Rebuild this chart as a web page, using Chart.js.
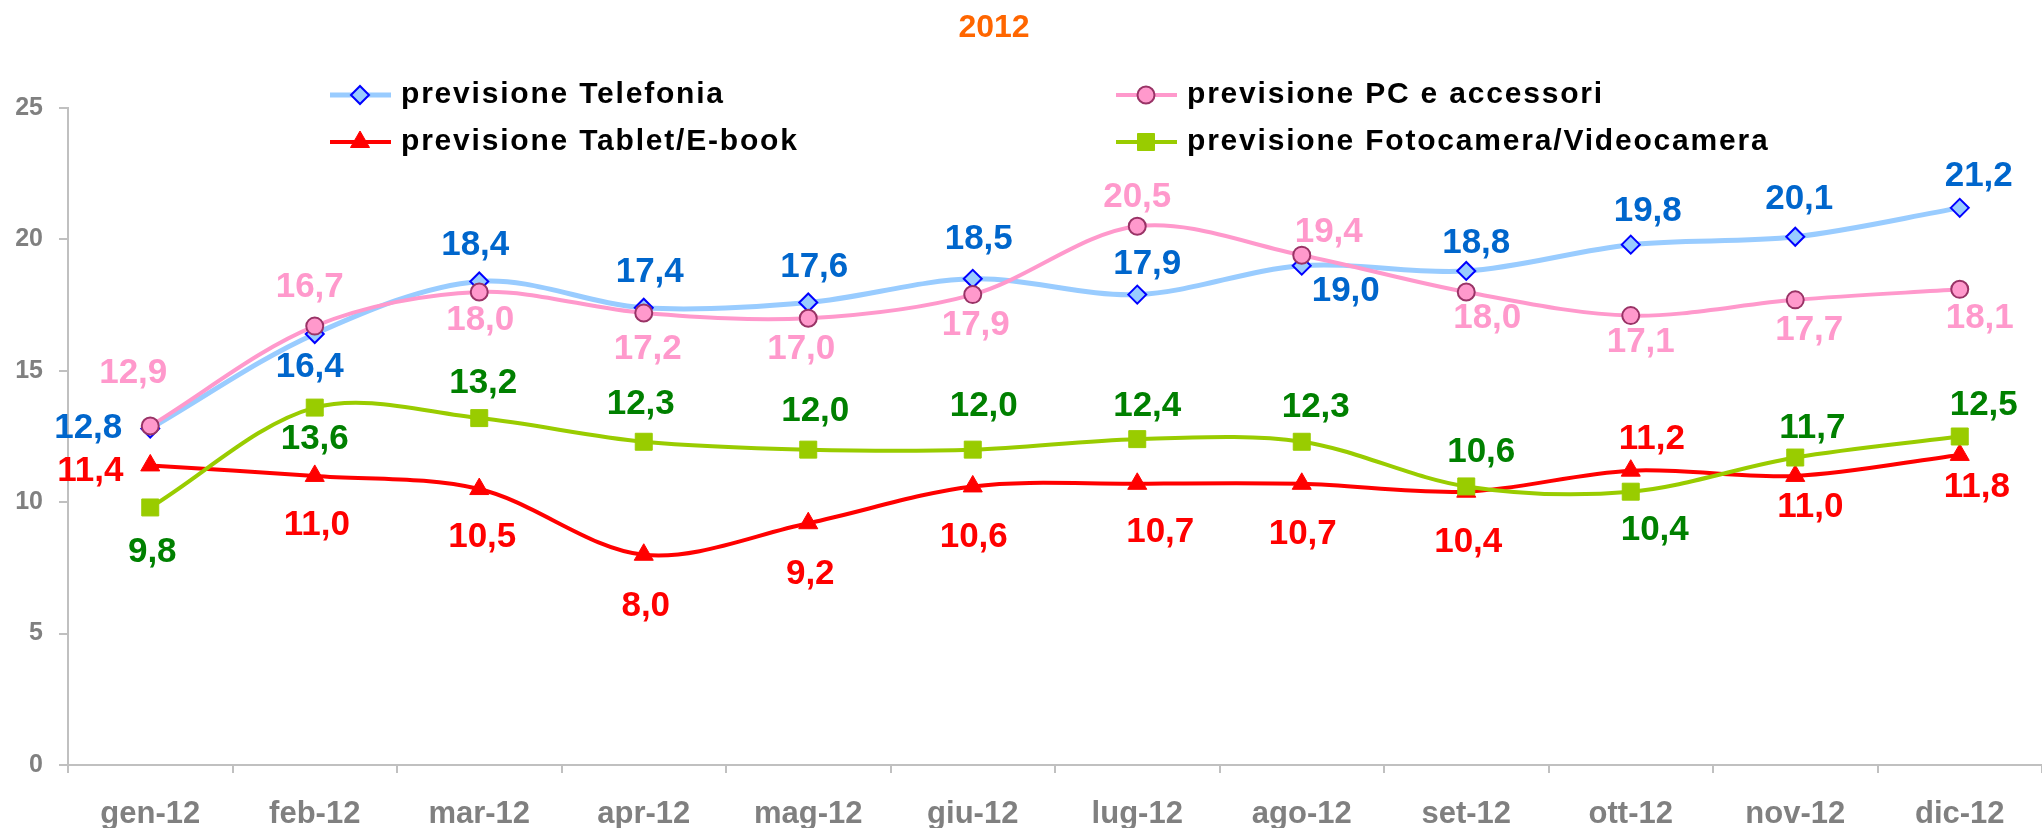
<!DOCTYPE html>
<html>
<head>
<meta charset="utf-8">
<script src="https://cdn.jsdelivr.net/npm/chart.js@4.4.0/dist/chart.umd.min.js"></script>
<style>
  html, body { margin: 0; padding: 0; background: #fff; }
  #wrap { width: 2042px; height: 828px; position: relative; }
</style>
</head>
<body>
<div id="wrap"><canvas id="chart"></canvas></div>
<script>
const months = ['gen-12', 'feb-12', 'mar-12', 'apr-12', 'mag-12', 'giu-12',
  'lug-12', 'ago-12', 'set-12', 'ott-12', 'nov-12', 'dic-12'];

const telefonia = [12.8, 16.4, 18.4, 17.4, 17.6, 18.5, 17.9, 19.0, 18.8, 19.8, 20.1, 21.2];
const pcAccessori = [12.9, 16.7, 18.0, 17.2, 17.0, 17.9, 20.5, 19.4, 18.0, 17.1, 17.7, 18.1];
const tablet = [11.4, 11.0, 10.5, 8.0, 9.2, 10.6, 10.7, 10.7, 10.4, 11.2, 11.0, 11.8];
const fotocamera = [9.8, 13.6, 13.2, 12.3, 12.0, 12.0, 12.4, 12.3, 10.6, 10.4, 11.7, 12.5];

const seriesNames = [
  'previsione Telefonia',
  'previsione PC e accessori',
  'previsione Tablet/E-book',
  'previsione Fotocamera/Videocamera',
];
const titleText = '2012';

// where each value label sits relative to its point (px)
const telefoniaLabelPos = [[-62, 0], [-5, 33], [-4, -36], [6, -35], [6, -35], [6, -39], [10, -30], [44, 26], [10, -28], [17, -33], [4, -37], [19, -32]];
const pcLabelPos = [[-17, -53], [-5, -39], [1, 28], [4, 36], [-7, 31], [3, 31], [0, -29], [27, -23], [21, 26], [10, 27], [14, 30], [20, 29]];
const tabletLabelPos = [[-60, 6], [2, 49], [3, 48], [2, 52], [2, 51], [1, 51], [23, 49], [1, 51], [2, 51], [21, -31], [15, 31], [17, 32]];
const fotoLabelPos = [[2, 45], [0, 32], [4, -35], [-3, -37], [7, -38], [11, -43], [10, -33], [14, -34], [15, -34], [24, 39], [17, -29], [24, -31]];

const FONT = '"Liberation Sans", Arial, Helvetica, sans-serif';
const AXIS_GREY = '#C0C0C0';
const TEXT_GREY = '#808080';

function fmt(v) {
  return v.toFixed(1).replace('.', ',');
}

const valueLabels = {
  id: 'valueLabels',
  afterDatasetsDraw(chart) {
    const ctx = chart.ctx;
    ctx.save();
    ctx.font = `bold 35px ${FONT}`;
    ctx.textAlign = 'center';
    ctx.textBaseline = 'middle';
    chart.data.datasets.forEach((ds, i) => {
      const meta = chart.getDatasetMeta(i);
      ctx.fillStyle = ds.labelColor;
      meta.data.forEach((pt, j) => {
        const off = ds.labelPos[j] || [0, -30];
        ctx.fillText(fmt(ds.data[j]), pt.x + off[0], pt.y + off[1]);
      });
    });
    ctx.restore();
  },
};

// title + two-column legend, drawn on the canvas
const headerBlock = {
  id: 'headerBlock',
  afterDraw(chart) {
    const ctx = chart.ctx;
    ctx.save();
    ctx.font = `bold 32px ${FONT}`;
    ctx.fillStyle = '#FF6600';
    ctx.textAlign = 'center';
    ctx.textBaseline = 'middle';
    ctx.fillText(titleText, 994, 28);

    chart.data.datasets.forEach((ds, i) => {
      const col = i % 2;
      const row = Math.floor(i / 2);
      const x0 = 330 + col * 786;
      const y = 95 + row * 47;
      ctx.strokeStyle = ds.borderColor;
      ctx.lineWidth = ds.borderWidth;
      ctx.beginPath();
      ctx.moveTo(x0, y);
      ctx.lineTo(x0 + 61, y);
      ctx.stroke();

      ctx.fillStyle = ds.pointBackgroundColor;
      ctx.strokeStyle = ds.pointBorderColor;
      ctx.lineWidth = ds.pointBorderWidth;
      if (Chart.helpers && Chart.helpers.drawPoint) {
        Chart.helpers.drawPoint(ctx, {
          pointStyle: ds.pointStyle,
          rotation: 0,
          radius: ds.pointRadius,
          borderWidth: ds.pointBorderWidth,
        }, x0 + 30, y);
      }

      ctx.fillStyle = '#000000';
      ctx.font = `bold 30px ${FONT}`;
      ctx.textAlign = 'left';
      ctx.textBaseline = 'middle';
      if ('letterSpacing' in ctx) ctx.letterSpacing = '1.8px';
      ctx.fillText(ds.label, x0 + 71, y);
      if ('letterSpacing' in ctx) ctx.letterSpacing = '0px';
    });
    ctx.restore();
  },
};

function lineSet(label, data, opts) {
  return Object.assign({
    label,
    data,
    fill: false,
    tension: 0.33,
    borderWidth: 4,
    pointBorderWidth: 2,
    pointHoverRadius: opts.pointRadius,
  }, opts);
}

const ctx = document.getElementById('chart').getContext('2d');
new Chart(ctx, {
  type: 'line',
  data: {
    labels: months,
    datasets: [
      lineSet(seriesNames[0], telefonia, {
        borderColor: '#99CCFF',
        borderWidth: 5,
        pointStyle: 'rectRot',
        pointRadius: 9,
        pointBackgroundColor: '#99CCFF',
        pointBorderColor: '#0000FF',
        labelColor: '#0066CC',
        labelPos: telefoniaLabelPos,
        order: 2,
      }),
      lineSet(seriesNames[1], pcAccessori, {
        borderColor: '#FF99CC',
        pointStyle: 'circle',
        pointRadius: 8.5,
        pointBackgroundColor: '#FF99CC',
        pointBorderColor: '#993366',
        labelColor: '#FF99CC',
        labelPos: pcLabelPos,
        order: 0,
      }),
      lineSet(seriesNames[2], tablet, {
        borderColor: '#FF0000',
        pointStyle: 'triangle',
        pointRadius: 11,
        pointBackgroundColor: '#FF0000',
        pointBorderColor: '#FF0000',
        pointBorderWidth: 1,
        labelColor: '#FF0000',
        labelPos: tabletLabelPos,
        order: 3,
      }),
      lineSet(seriesNames[3], fotocamera, {
        borderColor: '#99CC00',
        pointStyle: 'rect',
        pointRadius: 12,
        pointBackgroundColor: '#99CC00',
        pointBorderColor: '#99CC00',
        pointBorderWidth: 1,
        labelColor: '#008000',
        labelPos: fotoLabelPos,
        order: 1,
      }),
    ],
  },
  options: {
    responsive: true,
    maintainAspectRatio: false,
    animation: false,
    layout: {
      autoPadding: false,
      padding: { top: 108, left: 16, right: 0, bottom: 0 },
    },
    plugins: {
      legend: { display: false },
      title: { display: false },
      tooltip: { enabled: false },
    },
    scales: {
      x: {
        offset: true,
        afterFit(scale) { scale.height = 63; },
        grid: {
          drawOnChartArea: false,
          drawTicks: true,
          tickLength: 8,
          color: AXIS_GREY,
          lineWidth: 2,
          offset: true,
        },
        border: { display: true, color: AXIS_GREY, width: 2 },
        ticks: {
          color: TEXT_GREY,
          font: { family: FONT, size: 31, weight: 'bold' },
          padding: 23,
          maxRotation: 0,
          autoSkip: false,
        },
      },
      y: {
        min: 0,
        max: 25,
        afterFit(scale) { scale.width = 52; },
        grid: {
          drawOnChartArea: false,
          drawTicks: true,
          tickLength: 9,
          color: AXIS_GREY,
          lineWidth: 2,
        },
        border: { display: true, color: AXIS_GREY, width: 2 },
        ticks: {
          stepSize: 5,
          color: TEXT_GREY,
          font: { family: FONT, size: 25, weight: 'bold' },
          padding: 16,
        },
      },
    },
  },
  plugins: [valueLabels, headerBlock],
});
</script>
</body>
</html>
